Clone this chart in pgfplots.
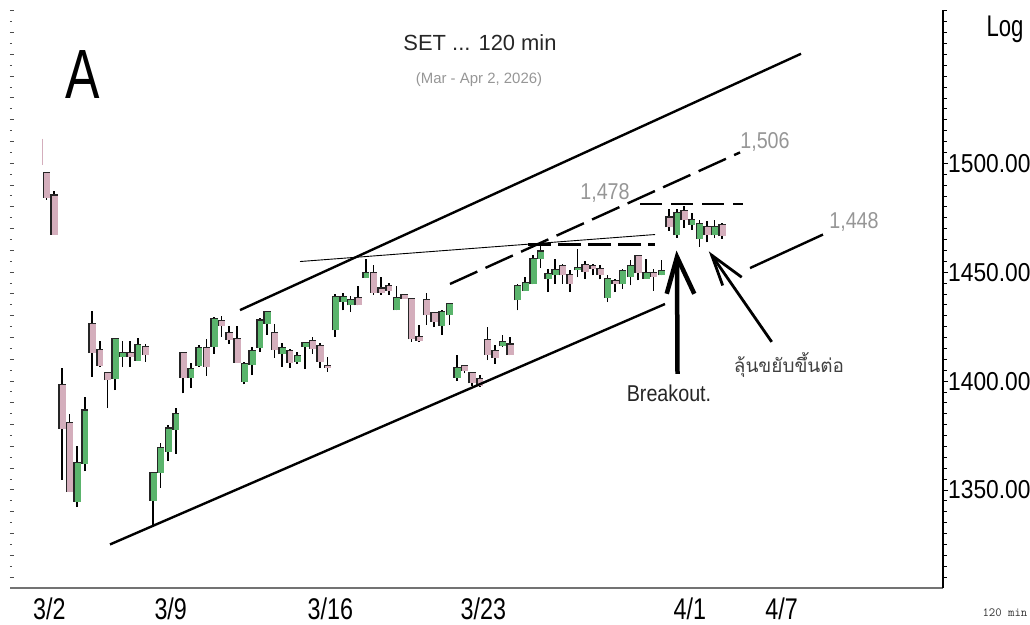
\documentclass[border=0pt]{standalone}
\usepackage{fontspec}
\usepackage{pgfplots}
\usepackage{pgfplotstable}
\pgfplotsset{compat=1.18}
\setmainfont{Liberation Sans}
\newfontfamily\narrowA[FakeStretch=0.74]{Liberation Sans}
\newfontfamily\narrowB[FakeStretch=0.78]{Liberation Sans}
\newfontfamily\narrowC[FakeStretch=0.86]{Liberation Sans}
\newfontfamily\narrowD[FakeStretch=0.88]{Liberation Sans}
\newfontfamily\thaifont[Script=Thai]{Loma}
\definecolor{upc}{RGB}{90,180,108}
\definecolor{dnc}{RGB}{212,174,188}
\definecolor{lblgray}{RGB}{150,150,150}

% green (rising) candles: x = horizontal position, o h l c
\pgfplotstableread{
x o h l c
77 1344.5 1370.3 1342.1 1362.1
84.8 1362.1 1392.9 1358.7 1386.4
115 1400.9 1419.9 1395.9 1419.3
122.5 1411.1 1418.6 1406.4 1412.6
137.8 1409.3 1419.8 1409.3 1416.5
153 1345.1 1358.3 1333.2 1357.8
160.5 1357.8 1371.4 1351.0 1369.1
168.2 1367.6 1379.8 1363.2 1378.1
175.7 1377.7 1387.5 1366.6 1384.6
190.8 1401.5 1408.5 1397.0 1405.5
198.7 1407.0 1416.5 1406.5 1414.9
214 1415.7 1429.4 1412.6 1428.4
244.2 1399.7 1408.8 1398.5 1407.6
252 1407.3 1415.7 1402.7 1413.7
259.7 1415.2 1429.0 1413.5 1427.7
267 1426.3 1431.7 1421.3 1431.7
282 1412.3 1417.7 1406.5 1415.2
297.2 1408.8 1413.5 1408.0 1411.6
305 1415.7 1417.5 1405.5 1417.5
335.2 1423.3 1440.1 1420.3 1438.6
343 1436.3 1440.5 1432.5 1438.6
350.5 1434.8 1439.3 1431.7 1437.1
365.8 1447.3 1456.0 1447.3 1449.5
396.3 1432.5 1443.6 1432.5 1438.1
441.8 1425.2 1432.5 1421.3 1431.7
449.5 1430.2 1435.5 1425.9 1435.2
457 1401.5 1411.9 1400.0 1406.1
502.5 1416.1 1421.3 1415.7 1417.7
517.5 1437.1 1444.6 1432.5 1443.5
525.2 1441.3 1447.7 1441.3 1445.0
533 1444.4 1457.8 1444.4 1455.8
540.5 1456.2 1463.7 1451.9 1459.4
548 1446.9 1451.5 1440.9 1449.2
555 1448.5 1456.0 1444.6 1450.8
577.5 1450.8 1460.6 1447.7 1451.9
607.5 1438.2 1448.8 1436.3 1446.7
622.5 1444.6 1451.5 1442.4 1450.3
630.3 1447.7 1455.8 1443.9 1452.7
646 1446.9 1456.2 1446.9 1449.7
661.3 1448.5 1455.8 1448.5 1450.3
676.8 1466.9 1478.9 1465.9 1476.9
691.8 1471.9 1477.3 1469.5 1473.9
699.3 1465.3 1474.2 1461.7 1471.9
714.5 1466.9 1473.8 1465.6 1470.8
}\upcandles

% pink (falling) candles
\pgfplotstableread{
x o h l c
46.5 1495.3 1495.3 1483.3 1484.3
54 1485.1 1487.5 1467.2 1467.2
62 1397.9 1406.2 1354.8 1378.0
69.5 1380.7 1384.9 1349.0 1349.0
92 1425.9 1432.2 1402.0 1412.9
99.8 1414.0 1418.3 1406.5 1407.0
107.5 1403.7 1403.7 1387.6 1400.5
130 1412.6 1418.6 1406.4 1411.1
145.5 1415.7 1417.1 1408.8 1411.9
183 1412.6 1412.6 1394.4 1401.5
206.3 1414.9 1419.2 1402.4 1406.5
221.5 1427.6 1429.9 1420.3 1425.3
229 1421.8 1425.3 1417.2 1418.8
237 1419.2 1425.3 1408.4 1408.4
274.5 1422.1 1426.3 1410.7 1414.2
289.7 1413.7 1414.9 1406.1 1408.4
312.5 1418.4 1420.3 1412.6 1414.9
320 1416.0 1417.5 1406.1 1408.8
327.5 1406.9 1411.1 1404.3 1406.1
358 1438.1 1443.5 1434.8 1434.8
373.5 1449.5 1453.1 1439.6 1440.5
381 1442.4 1448.0 1439.6 1440.5
388.8 1443.5 1445.1 1439.6 1441.3
404 1439.6 1440.1 1437.8 1437.8
411.5 1437.5 1437.5 1418.0 1419.2
419 1420.3 1425.9 1418.0 1418.4
426.5 1437.3 1440.5 1425.9 1430.2
434 1431.2 1431.2 1424.8 1427.1
464.5 1407.0 1407.0 1403.5 1404.6
472 1403.5 1403.5 1397.9 1398.9
479.8 1400.9 1403.0 1397.4 1397.9
487.3 1418.6 1424.8 1409.6 1412.2
495 1413.7 1416.5 1408.0 1410.7
510 1416.7 1420.3 1411.9 1411.9
562.5 1452.7 1453.6 1444.6 1448.5
569.8 1448.5 1450.8 1440.9 1444.6
585 1453.1 1455.0 1446.9 1450.3
592.8 1452.7 1453.9 1448.5 1451.5
600 1451.5 1453.1 1446.7 1448.9
615 1445.9 1446.9 1440.9 1444.4
638 1457.4 1457.4 1446.2 1449.5
653.5 1449.5 1451.5 1441.6 1447.7
669 1475.0 1478.9 1469.1 1470.6
684 1478.1 1480.5 1470.3 1473.8
707 1470.8 1473.4 1463.7 1466.9
722 1471.4 1472.6 1465.3 1466.4
}\downcandles

\begin{document}
\begin{tikzpicture}
% left-side small ticks
\begin{axis}[
  scale only axis, width=933bp, height=578bp,
  xmin=10, xmax=943, ymin=1305, ymax=1570.4,
  hide x axis, axis y line*=left,
  y axis line style={draw=none},
  ytick={1310,1320,...,1570}, yticklabels={},
  minor ytick={1315,1325,...,1565},
  tick align=inside, major tick length=3.5bp, minor tick length=1.8bp,
  tick style={black!70, line width=1bp},
]
\addplot[draw=none, forget plot] coordinates {(500,1400) (600,1450)};
\end{axis}
\begin{axis}[
  scale only axis, width=933bp, height=578bp,
  xmin=10, xmax=943, ymin=1305, ymax=1570.4,
  axis x line*=bottom, axis y line*=right,
  x axis line style={draw=black!55, line width=1.2bp},
  y axis line style={draw=black, line width=1.2bp},
  xtick={31,152.3,305.4,458.4,671.5,763.2},
  xticklabels={3/2,3/9,3/16,3/23,4/1,4/7},
  xtick style={draw=none},
  xticklabel style={font=\narrowB\fontsize{30}{30}\selectfont, anchor=north west, inner sep=0pt, xshift=2bp, yshift=-5bp},
  extra x ticks={31,152.3,305.4,458.4,671.5,763.2},
  extra x tick labels={},
  extra x tick style={tick align=outside, major tick length=38bp, tick style={black!85, line width=1.2bp}},
  ytick={1350,1400,1450,1500},
  yticklabels={1350.00,1400.00,1450.00,1500.00},
  minor ytick={1310,1315,...,1570},
  ytick style={black, line width=0.9bp},
  tick align=outside, major tick length=5bp, minor tick length=3.5bp,
  yticklabel style={font=\narrowD\fontsize{26}{26}\selectfont, anchor=west, inner sep=0pt, xshift=0bp},
]
% wicks
\addplot[draw=none, mark=none, forget plot, error bars/.cd, y dir=plus, y explicit, error mark=none,
  error bar style={draw=black, line width=1.6bp}]
  table[x=x, y=l, y error plus expr=\thisrow{h}-\thisrow{l}] {\upcandles};
\addplot[draw=none, mark=none, forget plot, error bars/.cd, y dir=plus, y explicit, error mark=none,
  error bar style={draw=black, line width=1.6bp}]
  table[x=x, y=l, y error plus expr=\thisrow{h}-\thisrow{l}] {\downcandles};
% body shadows
\addplot[draw=none, mark=none, forget plot, error bars/.cd, y dir=plus, y explicit, error mark=none,
  error bar style={draw=black!85, line width=7.2bp}]
  table[x=x, y=o, y error plus expr=\thisrow{c}-\thisrow{o}+0.6] {\upcandles};
\addplot[draw=none, mark=none, forget plot, error bars/.cd, y dir=plus, y explicit, error mark=none,
  error bar style={draw=black!85, line width=7.2bp}]
  table[x=x, y=c, y error plus expr=\thisrow{o}-\thisrow{c}+0.6] {\downcandles};
% bodies
\addplot[draw=none, mark=none, forget plot, error bars/.cd, y dir=plus, y explicit, error mark=none,
  error bar style={draw=upc, line width=5.8bp, xshift=0.7bp}]
  table[x=x, y=o, y error plus expr=\thisrow{c}-\thisrow{o}+0.1] {\upcandles};
\addplot[draw=none, mark=none, forget plot, error bars/.cd, y dir=plus, y explicit, error mark=none,
  error bar style={draw=dnc, line width=5.8bp, xshift=0.7bp}]
  table[x=x, y=c, y error plus expr=\thisrow{o}-\thisrow{c}+0.1] {\downcandles};
\addplot[dnc, line width=1.5bp] coordinates {(42.5,1511.3) (42.5,1499.2)};
% channel and trend lines
\addplot[black, line width=2.4bp] coordinates {(240,1432.6) (801,1550.3)};
\addplot[black, line width=2.4bp] coordinates {(110,1325.0) (665,1435.4)};
\addplot[black, line width=2.4bp] coordinates {(750,1451.9) (823,1467.3)};
\addplot[black, line width=2.4bp, dash pattern=on 30bp off 9bp] coordinates {(450,1444.6) (740,1505)};
\addplot[black, line width=0.9bp] coordinates {(300,1454.9) (655,1467.3)};
\addplot[black, line width=2.4bp, dash pattern=on 23bp off 7bp] coordinates {(528,1462.7) (655,1462.7)};
\addplot[black, line width=2.4bp, dash pattern=on 22bp off 9bp] coordinates {(640,1481.2) (743,1481.2)};
% arrows
\addplot[black, line width=4.5bp] coordinates {(677.5,1403.3) (677,1455.5)};
\addplot[black, line width=4.5bp] coordinates {(666.7,1440.1) (677,1457.0) (694.3,1440.1)};
\addplot[black, line width=2.8bp] coordinates {(771.7,1418.0) (711.7,1457.8)};
\addplot[black, line width=2.8bp] coordinates {(722.7,1443.9) (711.7,1457.8) (741.7,1447.7)};
\end{axis}
\begin{scope}[x=1bp, y=-1bp, shift={(-10bp,588bp)}]
\node[font=\fontsize{22}{22}\selectfont, text=black!85] at (480,43) {SET ... 120 min};
\node[font=\fontsize{15}{15}\selectfont, text=lblgray] at (479,80) {(Mar - Apr 2, 2026)};
\node[font=\narrowA\fontsize{70}{70}\selectfont] at (82.5,75) {A};
\node[font=\narrowA\fontsize{30}{30}\selectfont] at (1005,29) {Log};
\node[font=\narrowC\fontsize{23}{23}\selectfont, text=lblgray] at (605,193) {1,478};
\node[font=\narrowC\fontsize{23}{23}\selectfont, text=lblgray] at (765,142) {1,506};
\node[font=\narrowC\fontsize{23}{23}\selectfont, text=lblgray] at (854,222) {1,448};
\node[font=\narrowC\fontsize{23}{23}\selectfont, text=black!85] at (669,393) {Breakout.};
\node[font=\thaifont\fontsize{19}{19}\selectfont, text=black!75] at (789,365) {ลุ้นขยับขึ้นต่อ};
\node[font=\ttfamily\fontsize{12.5}{12.5}\selectfont, anchor=west, text=black!80] at (979,613) {120 min};
\end{scope}
\pgfresetboundingbox
\path[use as bounding box] (-10bp,-37bp) rectangle (1020bp,588bp);
\end{tikzpicture}
\end{document}
